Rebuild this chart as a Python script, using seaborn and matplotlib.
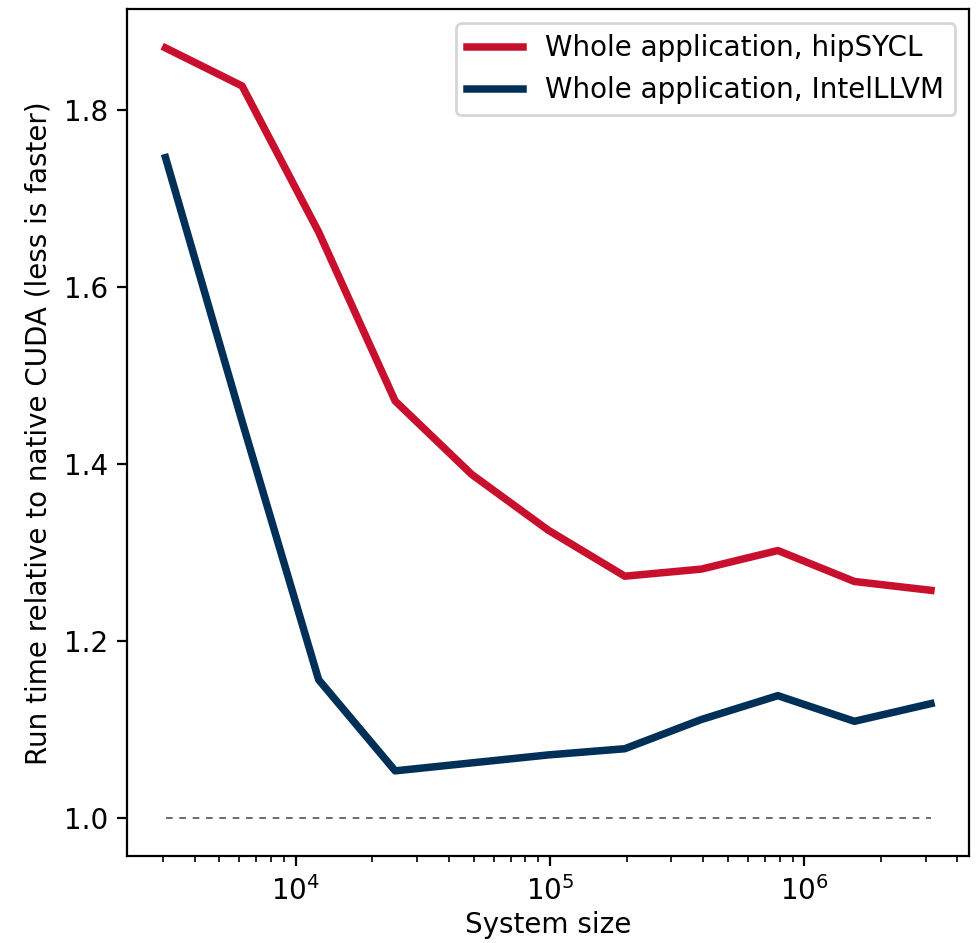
import matplotlib
matplotlib.use("Agg")
import matplotlib.pyplot as plt
import seaborn as sns
import pandas as pd
import numpy as np

system_size = [3072 * 2**k for k in range(11)]
hipsycl = [1.870, 1.827, 1.662, 1.471, 1.388, 1.325, 1.273, 1.281, 1.302, 1.267, 1.257]
intelllvm = [1.746, 1.448, 1.156, 1.053, 1.062, 1.071, 1.078, 1.111, 1.138, 1.109, 1.129]
baseline = [1.0] * len(system_size)

labels = ["Whole application, hipSYCL", "Whole application, IntelLLVM"]
colors = ["#C8102E", "#003057"]

plt.rcParams['font.family'] = ['DejaVu Sans']

df = pd.DataFrame({
    "System size": system_size * 2,
    "value": hipsycl + intelllvm,
    "series": [labels[0]] * len(system_size) + [labels[1]] * len(system_size),
})

fig, ax = plt.subplots(figsize=(4.895, 4.715), dpi=200)
sns.lineplot(data=df, x="System size", y="value", hue="series",
             palette=dict(zip(labels, colors)), linewidth=2.7, ax=ax)
ax.plot(system_size, baseline, linestyle="--", color="#555555", linewidth=0.6, dashes=(4, 4))
ax.set_xscale("log")
ax.set_xlabel("System size", labelpad=2)
ax.set_ylabel("Run time relative to native CUDA (less is faster)")
ax.set_yticks([1.0, 1.2, 1.4, 1.6, 1.8])
ax.legend(loc="upper right", title=None)
fig.subplots_adjust(left=0.13, right=0.99, top=0.99, bottom=0.092)
fig.savefig("out.png", dpi=200)
